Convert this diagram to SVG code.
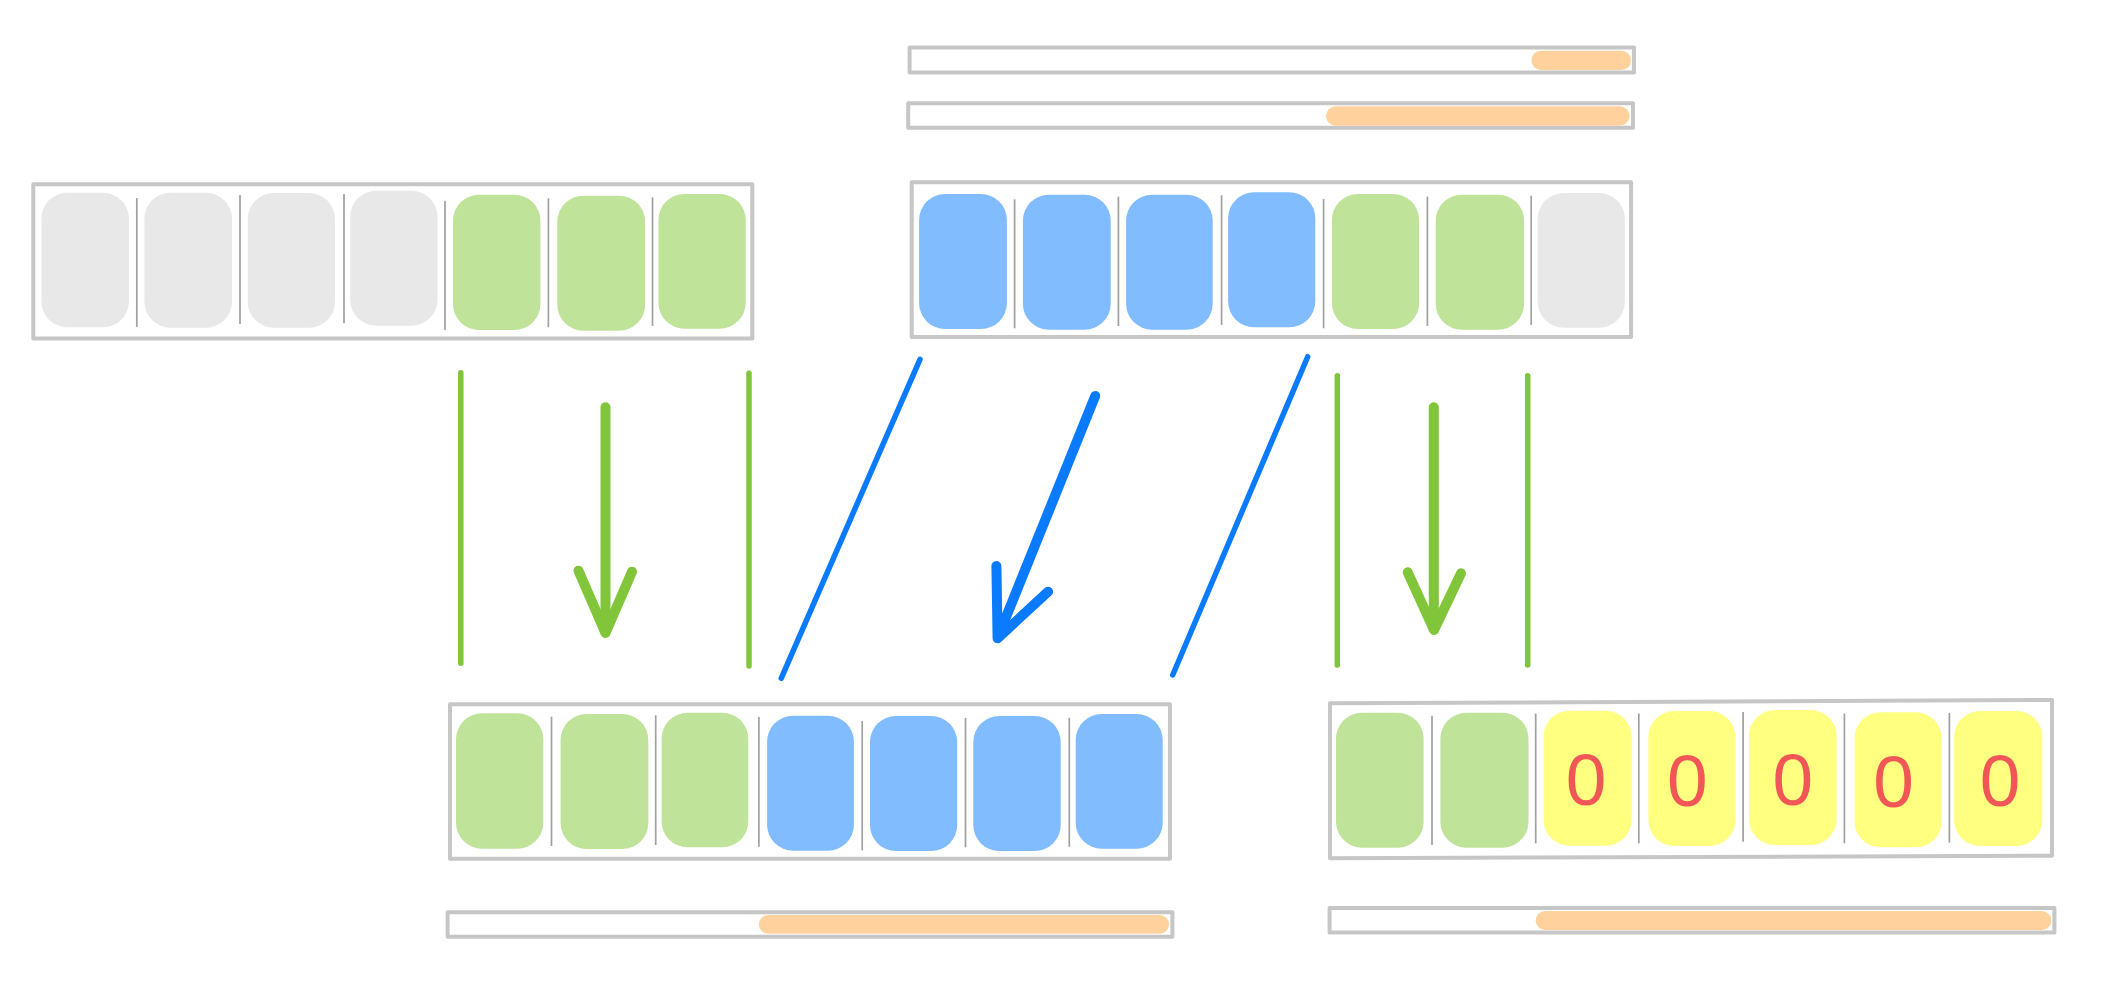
<svg xmlns="http://www.w3.org/2000/svg" width="2108" height="1000" viewBox="0 0 2108 1000">
<style>
.frame{fill:#ffffff;stroke:#c6c6c6;stroke-width:4;stroke-linejoin:round}
.gray{fill:#e8e8e8}
.green{fill:#c0e39a}
.blue{fill:#80bcff}
.yellow{fill:#ffff80}
.pill{fill:#ffd19c}
.div{stroke:#a0a0a0;stroke-width:1.7;fill:none}
.zero{font-family:"Liberation Sans",Arial,sans-serif;font-size:73px;fill:#f25757;text-anchor:middle}
.gl{stroke:#80c53a;stroke-width:5.5;stroke-linecap:round;fill:none}
.ga{stroke:#80c53a;stroke-width:10;stroke-linecap:round;stroke-linejoin:round;fill:none}
.bl{stroke:#0a7aff;stroke-width:5.5;stroke-linecap:round;fill:none}
.ba{stroke:#0a7aff;stroke-width:10;stroke-linecap:round;stroke-linejoin:round;fill:none}
</style>
<rect width="2108" height="1000" fill="#ffffff"/>

<g id="bar-top-1">
<rect class="frame" x="909.6" y="47.6" width="724.4" height="24.8"/>
<rect class="pill" x="1531.5" y="50.8" width="99.5" height="19.2" rx="9.6"/>
</g>
<g id="bar-top-2">
<rect class="frame" x="908.2" y="103.2" width="724.8" height="24.6"/>
<rect class="pill" x="1326" y="106.3" width="303.5" height="19.4" rx="9.7"/>
</g>

<g id="array-top-left">
<rect class="frame" x="33.3" y="184.2" width="719" height="154.2"/>
<rect class="gray" x="41.4" y="192.7" width="87.6" height="134.6" rx="26"/>
<rect class="gray" x="144.4" y="192.7" width="87.6" height="135" rx="26"/>
<rect class="gray" x="247.7" y="193" width="87.3" height="134.7" rx="26"/>
<rect class="gray" x="350.2" y="190.7" width="87.3" height="135" rx="26"/>
<rect class="green" x="453" y="194.7" width="87.4" height="135.3" rx="26"/>
<rect class="green" x="557.3" y="195.7" width="87.8" height="135" rx="26"/>
<rect class="green" x="658.4" y="194" width="87.3" height="134.7" rx="26"/>
<line class="div" x1="136.8" y1="198" x2="136.8" y2="327"/>
<line class="div" x1="240" y1="195" x2="240" y2="324"/>
<line class="div" x1="344" y1="194" x2="344" y2="323.3"/>
<line class="div" x1="445" y1="200.7" x2="445" y2="330"/>
<line class="div" x1="548.4" y1="198.3" x2="548.4" y2="327.3"/>
<line class="div" x1="652.5" y1="197.3" x2="652.5" y2="326"/>
</g>

<g id="array-top-middle">
<rect class="frame" x="911.7" y="182.2" width="719.4" height="154.8"/>
<rect class="blue" x="919.1" y="194" width="87.8" height="135" rx="26"/>
<rect class="blue" x="1022.9" y="194.7" width="87.8" height="135" rx="26"/>
<rect class="blue" x="1126.1" y="194.7" width="86.6" height="135" rx="26"/>
<rect class="blue" x="1228.1" y="192.3" width="87.2" height="135" rx="26"/>
<rect class="green" x="1331.9" y="194" width="87.2" height="135" rx="26"/>
<rect class="green" x="1435.7" y="194.7" width="88.4" height="135" rx="26"/>
<rect class="gray" x="1537.7" y="193" width="87.2" height="134.7" rx="26"/>
<line class="div" x1="1014.6" y1="199.3" x2="1014.6" y2="328.3"/>
<line class="div" x1="1118.4" y1="196.7" x2="1118.4" y2="326"/>
<line class="div" x1="1221.6" y1="195.3" x2="1221.6" y2="325"/>
<line class="div" x1="1323.6" y1="199" x2="1323.6" y2="328.3"/>
<line class="div" x1="1427.4" y1="196.7" x2="1427.4" y2="326"/>
<line class="div" x1="1531.2" y1="195.7" x2="1531.2" y2="325"/>
</g>

<g id="array-bottom-left">
<rect class="frame" x="450" y="704.3" width="720" height="154.4"/>
<rect class="green" x="456" y="713.3" width="87.3" height="135.4" rx="26"/>
<rect class="green" x="560.6" y="714" width="87.7" height="135" rx="26"/>
<rect class="green" x="661.6" y="712.7" width="86.7" height="134.6" rx="26"/>
<rect class="blue" x="767.1" y="715.7" width="86.8" height="135" rx="26"/>
<rect class="blue" x="870" y="716" width="87.2" height="135" rx="26"/>
<rect class="blue" x="973.3" y="716" width="87.4" height="135" rx="26"/>
<rect class="blue" x="1075.7" y="714" width="87" height="134.7" rx="26"/>
<line class="div" x1="551.5" y1="716.7" x2="551.5" y2="846"/>
<line class="div" x1="655.7" y1="715.3" x2="655.7" y2="845"/>
<line class="div" x1="758.9" y1="717" x2="758.9" y2="846.7"/>
<line class="div" x1="862.2" y1="721" x2="862.2" y2="850.3"/>
<line class="div" x1="965.5" y1="718" x2="965.5" y2="847.3"/>
<line class="div" x1="1069.3" y1="717.7" x2="1069.3" y2="846.7"/>
</g>

<g id="bar-bottom-left">
<rect class="frame" x="447.6" y="912.3" width="724.8" height="24.4"/>
<rect class="pill" x="758.9" y="915" width="410.1" height="18.7" rx="9.3"/>
</g>

<g id="array-bottom-right">
<path class="frame" d="M1330,703.3 L2052,700 L2052,855.7 L1330,858.3 Z"/>
<rect class="green" x="1336" y="712.7" width="87.6" height="135" rx="26"/>
<rect class="green" x="1440.4" y="712.7" width="88.1" height="135" rx="26"/>
<rect class="yellow" x="1543.5" y="710.7" width="88.1" height="135" rx="26"/>
<rect class="yellow" x="1648.4" y="711" width="86.9" height="135" rx="26"/>
<rect class="yellow" x="1749.1" y="710" width="87.5" height="135" rx="26"/>
<rect class="yellow" x="1854.6" y="712.3" width="87" height="135" rx="26"/>
<rect class="yellow" x="1954.2" y="711" width="88.1" height="135" rx="26"/>
<line class="div" x1="1432" y1="715.7" x2="1432" y2="845"/>
<line class="div" x1="1535.7" y1="713.5" x2="1535.7" y2="843.3"/>
<line class="div" x1="1638.8" y1="713.5" x2="1638.8" y2="843.3"/>
<line class="div" x1="1743.1" y1="712" x2="1743.1" y2="841.7"/>
<line class="div" x1="1844.4" y1="713.5" x2="1844.4" y2="843.3"/>
<line class="div" x1="1949.4" y1="713" x2="1949.4" y2="842.7"/>
<text class="zero" x="1586" y="805">0</text>
<text class="zero" x="1687.4" y="806">0</text>
<text class="zero" x="1792.9" y="805">0</text>
<text class="zero" x="1893.6" y="807">0</text>
<text class="zero" x="2000" y="806">0</text>
</g>

<g id="bar-bottom-right">
<rect class="frame" x="1329.6" y="908" width="724.8" height="24.4"/>
<rect class="pill" x="1535.7" y="911" width="515.6" height="19" rx="9.5"/>
</g>

<g id="connectors">
<line class="gl" x1="460.8" y1="372.7" x2="460.8" y2="663.3"/>
<line class="ga" x1="605.5" y1="407.3" x2="605.5" y2="632"/>
<polyline class="ga" points="578.5,570.7 605.5,633 632,571.7"/>
<line class="gl" x1="749" y1="373.3" x2="749" y2="666"/>
<line class="bl" x1="920" y1="359.3" x2="781.2" y2="678.3"/>
<line class="ba" x1="1095.2" y1="396" x2="998" y2="637"/>
<polyline class="ba" points="996.4,566 997.6,638.3 1048.1,591.7"/>
<line class="bl" x1="1307.7" y1="356.7" x2="1172.7" y2="675"/>
<line class="gl" x1="1337.3" y1="375.7" x2="1337.3" y2="665"/>
<line class="ga" x1="1433.8" y1="407.3" x2="1433.8" y2="629"/>
<polyline class="ga" points="1407.7,572.3 1434,630 1461,573.3"/>
<line class="gl" x1="1527.7" y1="375.7" x2="1527.7" y2="665"/>
</g>
</svg>
